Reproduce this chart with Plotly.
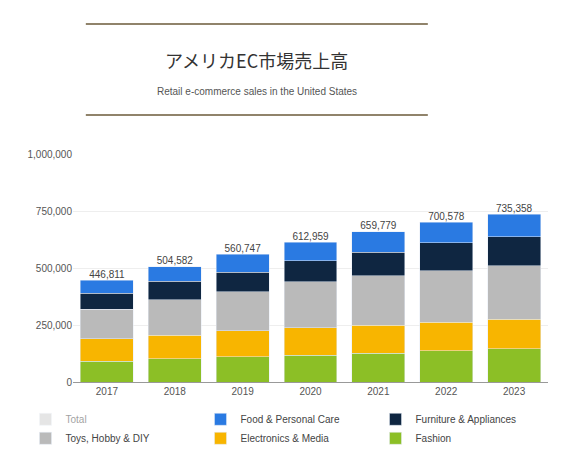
import plotly.graph_objects as go

years = ['2017', '2018', '2019', '2020', '2021', '2022', '2023']
fashion = [92000, 101000, 110000, 118000, 127000, 136000, 145000]
electronics = [97000, 105000, 114000, 119000, 123000, 127000, 131000]
toys = [131000, 154000, 171000, 202000, 215000, 224000, 233000]
furniture = [70000, 83000, 87000, 92000, 105000, 123000, 127000]
totals = [446811, 504582, 560747, 612959, 659779, 700578, 735358]

# food = total minus the rest
food = [t - a - b - c - d for t, a, b, c, d in zip(totals, fashion, electronics, toys, furniture)]

fig = go.Figure()
fig.add_trace(go.Bar(x=years, y=[0]*7, name='Total', marker_color='#cccccc', visible='legendonly', legendrank=1))
fig.add_trace(go.Bar(x=years, y=fashion, name='Fashion', marker_color='#8cbf26', legendrank=6))
fig.add_trace(go.Bar(x=years, y=electronics, name='Electronics & Media', marker_color='#f8b500', legendrank=5))
fig.add_trace(go.Bar(x=years, y=toys, name='Toys, Hobby & DIY', marker_color='#bababa', legendrank=4))
fig.add_trace(go.Bar(x=years, y=furniture, name='Furniture & Appliances', marker_color='#0f2641', legendrank=3))
fig.add_trace(go.Bar(x=years, y=food, name='Food & Personal Care', marker_color='#2a7ae2', legendrank=2))

fig.add_trace(go.Scatter(x=years, y=totals, mode='text', text=[f'{t:,}' for t in totals],
                         textposition='top center', textfont=dict(size=10, color='#444'),
                         showlegend=False, hoverinfo='skip'))

fig.update_layout(
    width=566, height=468, barmode='stack', bargap=0.22,
    plot_bgcolor='white', paper_bgcolor='white',
    font=dict(family='Liberation Sans, Noto Sans CJK JP', size=10, color='#555'),
    margin=dict(l=65, r=26, t=146, b=94),
    xaxis=dict(showline=True, linecolor='#999', ticks='', tickfont=dict(size=10)),
    yaxis=dict(range=[0, 1000000], tickvals=[0, 250000, 500000, 750000, 1000000],
               tickformat=',', gridcolor='#eeeeee', zeroline=False, tickfont=dict(size=10)),
    legend=dict(orientation='h', x=-0.1, y=-0.1, xanchor='left', yanchor='top',
                entrywidth=130, traceorder='normal', font=dict(size=10, color='#444')),
    annotations=[
        dict(text='アメリカEC市場売上高', x=0.387, y=1.412, xref='paper', yref='paper', yanchor='middle',
             showarrow=False, font=dict(size=18, color='#333', family='Noto Sans CJK JP')),
        dict(text='Retail e-commerce sales in the United States', x=0.387, y=1.276, xref='paper',
             yref='paper', yanchor='middle', showarrow=False, font=dict(size=10, color='#555')),
    ],
)
# title frame lines
for yy in [1.57, 1.171]:
    fig.add_shape(type='line', xref='paper', yref='paper', x0=0.027, x1=0.747, y0=yy, y1=yy,
                  line=dict(color='#6b5a3a', width=1.5))

fig.write_html('out.html')
